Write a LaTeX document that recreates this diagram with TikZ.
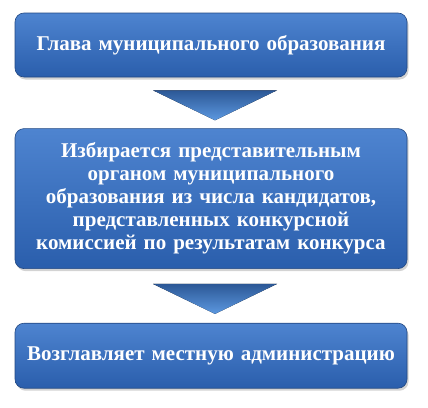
\documentclass[tikz,border=0pt]{standalone}
\usepackage{fontspec}
\setmainfont{Liberation Serif}
\usetikzlibrary{positioning, shadows, calc}

\definecolor{blokTop}{RGB}{78,132,208}
\definecolor{blokBot}{RGB}{42,94,172}
\definecolor{blokLine}{RGB}{34,72,130}
\definecolor{strTop}{RGB}{44,88,150}
\definecolor{strBot}{RGB}{92,152,224}

\tikzset{
  blok/.style={rectangle, rounded corners=9pt, draw=blokLine, line width=0.6pt,
    top color=blokTop, bottom color=blokBot, text=white,
    minimum width=392pt, text width=380pt, align=center,
    font=\fontsize{21}{23}\selectfont\bfseries,
    drop shadow={opacity=0.35, shadow xshift=1.5pt, shadow yshift=-2.5pt}},
  strelka/.style={top color=strTop, bottom color=strBot, draw=none}
}

\begin{document}
\begin{tikzpicture}[x=1pt, y=1pt]
    \useasboundingbox (0,0) rectangle (428,-407);

    \node(glava)[blok, minimum height=64pt] at (211,-45) {Глава муниципального образования};
    \node(izbir)[blok, minimum height=140pt, below=51pt of glava]
      {Избирается представительным\\ органом муниципального\\ образования из числа кандидатов,\\ представленных конкурсной\\ комиссией по результатам конкурса};
    \node(admin)[blok, minimum height=65pt, below=54pt of izbir] {Возглавляет местную администрацию};

    % strelki
    \fill[strelka] ($(glava.south)+(-58,-13)$) -- ($(glava.south)+(66,-13)$)
      -- ($(glava.south)+(4,-43)$) -- cycle;
    \fill[strelka] ($(izbir.south)+(-58,-15)$) -- ($(izbir.south)+(66,-15)$)
      -- ($(izbir.south)+(4,-45)$) -- cycle;
\end{tikzpicture}
\end{document}
